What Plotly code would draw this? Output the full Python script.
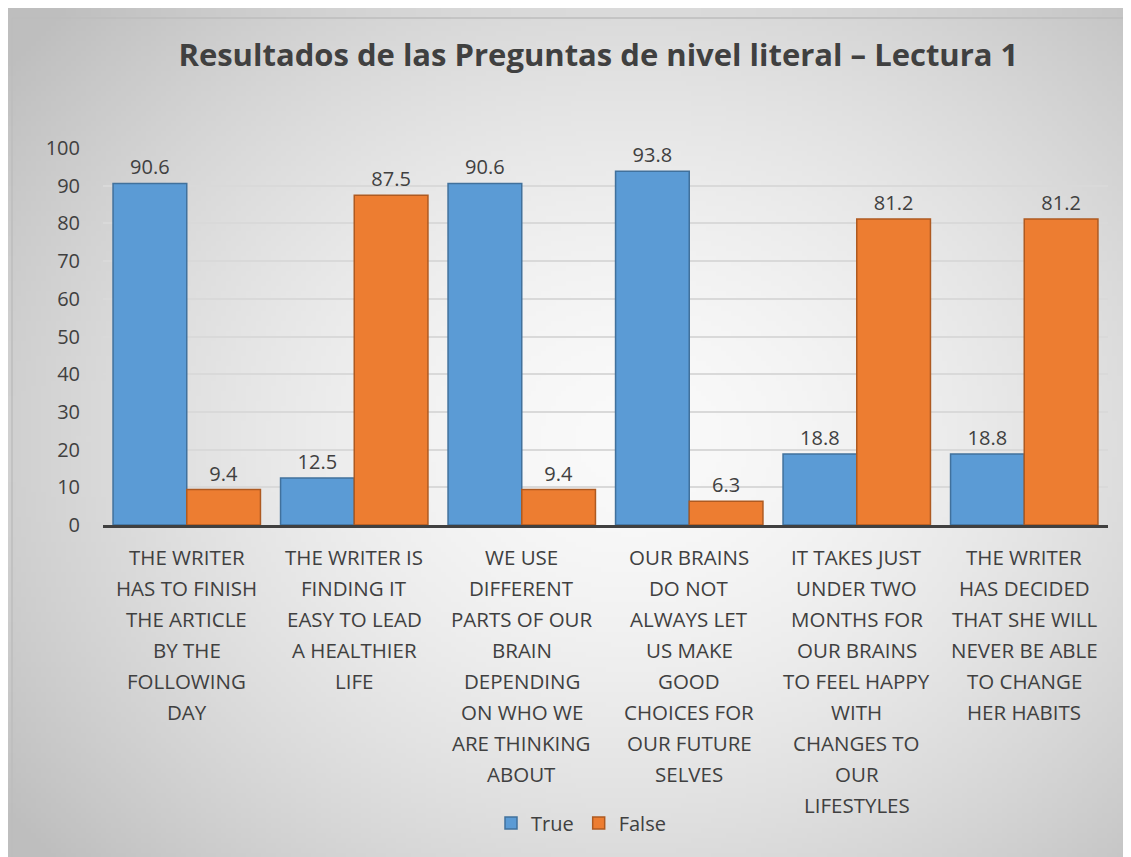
import base64, struct, zlib
import numpy as np
import plotly.graph_objects as go

# ---------------- data ----------------
categories = [
    "THE WRITER\nHAS TO FINISH\nTHE ARTICLE\nBY THE\nFOLLOWING\nDAY",
    "THE WRITER IS\nFINDING IT\nEASY TO LEAD\nA HEALTHIER\nLIFE",
    "WE USE\nDIFFERENT\nPARTS OF OUR\nBRAIN\nDEPENDING\nON WHO WE\nARE THINKING\nABOUT",
    "OUR BRAINS\nDO NOT\nALWAYS LET\nUS MAKE\nGOOD\nCHOICES FOR\nOUR FUTURE\nSELVES",
    "IT TAKES JUST\nUNDER TWO\nMONTHS FOR\nOUR BRAINS\nTO FEEL HAPPY\nWITH\nCHANGES TO\nOUR\nLIFESTYLES",
    "THE WRITER\nHAS DECIDED\nTHAT SHE WILL\nNEVER BE ABLE\nTO CHANGE\nHER HABITS",
]
true_values = [90.6, 12.5, 90.6, 93.8, 18.8, 18.8]
false_values = [9.4, 87.5, 9.4, 6.3, 81.2, 81.2]
y_ticks = [0, 10, 20, 30, 40, 50, 60, 70, 80, 90, 100]
title_text = "Resultados de las Preguntas de nivel literal – Lectura 1"

# ---------------- layout constants ----------------
W, H = 1131, 857
ML, MR, MT, MB = 95, 31, 140, 340
PW, PH = W - ML - MR, H - MT - MB
FONT = "Open Sans"
TXT = "#404040"

# radial gray gradient background as PNG
gw, gh = 226, 171
yy, xx = np.mgrid[0:gh, 0:gw]
d = np.sqrt(((xx / gw - 0.55) / 0.6) ** 2 + ((yy / gh - 0.5) / 0.65) ** 2)
img = np.clip(250 - 48 * d ** 1.6, 190, 250).astype(np.uint8)

def to_png(arr):
    h, w = arr.shape
    raw = b"".join(b"\x00" + arr[r].tobytes() for r in range(h))
    def chunk(t, data):
        c = struct.pack(">I", len(data)) + t + data
        return c + struct.pack(">I", zlib.crc32(t + data) & 0xFFFFFFFF)
    return (b"\x89PNG\r\n\x1a\n" + chunk(b"IHDR", struct.pack(">IIBBBBB", w, h, 8, 0, 0, 0, 0))
            + chunk(b"IDAT", zlib.compress(raw, 9)) + chunk(b"IEND", b""))

bg_uri = "data:image/png;base64," + base64.b64encode(to_png(img)).decode()

fig = go.Figure()
fig.add_trace(go.Bar(
    name="True", x=categories, y=true_values,
    marker=dict(color="#5B9BD5", line=dict(color="#41719C", width=1.5)),
    text=[f"{v:.1f}" for v in true_values], textposition="outside",
    textfont=dict(family=FONT, size=20, color=TXT), cliponaxis=False,
))
fig.add_trace(go.Bar(
    name="False", x=categories, y=false_values,
    marker=dict(color="#ED7D31", line=dict(color="#AE5A21", width=1.5)),
    text=[f"{v:.1f}" for v in false_values], textposition="outside",
    textfont=dict(family=FONT, size=20, color=TXT), cliponaxis=False,
))

annotations = []
for cat in categories:
    for j, line in enumerate(cat.split("\n")):
        annotations.append(dict(
            x=cat, xref="x", y=0, yref="paper", yanchor="middle", xanchor="center",
            yshift=-32 - 31 * j, text=line, showarrow=False,
            font=dict(family=FONT, size=20.5, color=TXT),
        ))

fig.update_layout(
    width=W, height=H,
    margin=dict(l=ML, r=MR, t=MT, b=MB),
    paper_bgcolor="#e6e6e6", plot_bgcolor="rgba(0,0,0,0)",
    title=dict(text=f"<b>{title_text}</b>", x=0.522, xanchor="center", y=1 - 47 / H, yanchor="middle",
               font=dict(family=FONT, size=31, color=TXT)),
    barmode="group", bargap=0.12, bargroupgap=0.0,
    xaxis=dict(showticklabels=False, showgrid=False, showline=True, linecolor=TXT, linewidth=3,
               ticks=""),
    yaxis=dict(range=[0, 100], tickvals=y_ticks, showgrid=True, gridcolor="#d9d9d9", gridwidth=1.5,
               zeroline=False, showline=False, ticks="",
               tickfont=dict(family=FONT, size=20, color=TXT), ticklabelstandoff=22),
    showlegend=True,
    legend=dict(orientation="h", x=(573 - ML) / PW, xanchor="center", y=-(815 - (MT + PH)) / PH,
                yanchor="middle", font=dict(family=FONT, size=20, color=TXT), bgcolor="rgba(0,0,0,0)",
                itemwidth=30),
    annotations=annotations,
    images=[dict(source=bg_uri, xref="paper", yref="paper", x=-ML / PW, y=1 + MT / PH,
                 sizex=W / PW, sizey=H / PH, sizing="stretch", layer="below", xanchor="left", yanchor="top")],
    shapes=[dict(type="rect", xref="paper", yref="paper", x0=-(ML - 4) / PW, x1=1 + (MR - 4) / PW,
                 y0=-(MB - 4) / PH, y1=1 + (MT - 10) / PH, line=dict(color="#bdbdbd", width=1.5),
                 fillcolor="rgba(0,0,0,0)", layer="below")],
)

fig.write_html("out.html")
